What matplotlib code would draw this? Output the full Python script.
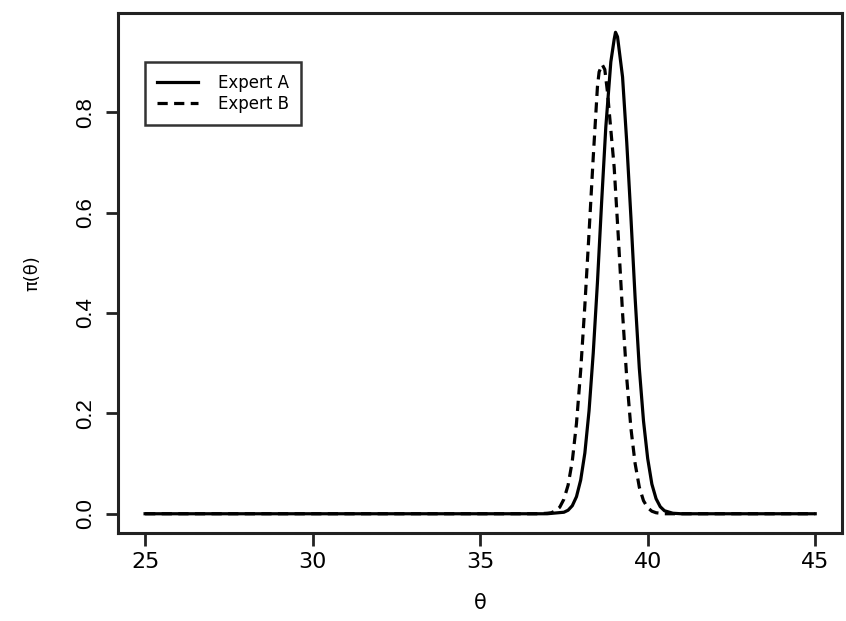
import matplotlib
matplotlib.use("Agg")
import matplotlib.pyplot as plt
from matplotlib.lines import Line2D

# ---- data ----
theta_A = [25.0, 37.0, 37.5, 37.625, 37.75, 37.875, 38.0, 38.125, 38.25, 38.375,
           38.5, 38.625, 38.75, 38.9, 39.0, 39.04, 39.1, 39.25, 39.375, 39.5,
           39.625, 39.75, 39.875, 40.0, 40.125, 40.25, 40.375, 40.5, 40.75,
           41.0, 45.0]
dens_A = [0.0, 0.0, 0.003, 0.007, 0.016, 0.034, 0.067, 0.121, 0.205, 0.32,
          0.46, 0.62, 0.77, 0.90, 0.945, 0.959, 0.95, 0.87, 0.74, 0.59,
          0.43, 0.29, 0.185, 0.11, 0.059, 0.03, 0.014, 0.006, 0.001,
          0.0, 0.0]

theta_B = [25.0, 36.75, 37.0, 37.125, 37.25, 37.375, 37.5, 37.625, 37.75, 37.875,
           38.0, 38.125, 38.25, 38.375, 38.5, 38.55, 38.64, 38.72, 38.8, 39.0,
           39.125, 39.25, 39.375, 39.5, 39.625, 39.75, 39.875, 40.0, 40.125,
           40.25, 40.5, 45.0]
dens_B = [0.0, 0.0, 0.001, 0.002, 0.006, 0.013, 0.029, 0.057, 0.105, 0.18,
          0.285, 0.415, 0.56, 0.71, 0.85, 0.88, 0.895, 0.885, 0.84, 0.69,
          0.55, 0.40, 0.27, 0.17, 0.10, 0.053, 0.026, 0.012, 0.005,
          0.002, 0.0, 0.0]

series_labels = ["Expert A", "Expert B"]
x_ticks = [25, 30, 35, 40, 45]
y_ticks = [0.0, 0.2, 0.4, 0.6, 0.8]
x_label = "θ"
y_label = "π(θ)"

# ---- figure ----
fig = plt.figure(figsize=(8.46, 6.21), dpi=100)
ax = fig.add_axes([0.1398, 0.1417, 0.8555, 0.8373])

lw = 2.3
ax.plot(theta_A, dens_A, color="black", lw=lw, solid_joinstyle="round")
ax.plot(theta_B, dens_B, color="black", lw=lw, dashes=(3.2, 2.0))

# R-style 4% axis expansion
xmin, xmax = 25.0, 45.0
ymin, ymax = 0.0, max(max(dens_A), max(dens_B))
dx = 0.04 * (xmax - xmin)
dy = 0.04 * (ymax - ymin)
ax.set_xlim(xmin - dx, xmax + dx)
ax.set_ylim(ymin - dy, ymax + dy)

ax.set_xticks(x_ticks)
ax.set_xticklabels([str(t) for t in x_ticks], family="DejaVu Sans", fontsize=16)
ax.set_yticks(y_ticks)
ax.set_yticklabels([f"{t:.1f}" for t in y_ticks], family="Liberation Sans",
                   fontsize=16, rotation=90, va="center")

ax.tick_params(axis="both", direction="out", length=9, width=2, color="#222222")
ax.tick_params(axis="x", pad=5)
ax.tick_params(axis="y", pad=7)

for sp in ax.spines.values():
    sp.set_linewidth(2.2)
    sp.set_color("#222222")

ax.set_xlabel(x_label, family="DejaVu Sans", fontsize=15)
ax.xaxis.set_label_coords(0.5, -0.115)
ax.set_ylabel(y_label, family="DejaVu Sans", fontsize=13)
ax.yaxis.set_label_coords(-0.106, 0.5)

handles = [Line2D([], [], color="black", lw=lw),
           Line2D([], [], color="black", lw=lw, dashes=(3.2, 2.0))]
leg = ax.legend(handles, series_labels, loc="upper left",
                bbox_to_anchor=(0.037, 0.906), frameon=True, fancybox=False,
                prop={"family": "DejaVu Sans", "size": 12},
                handlelength=2.5, handletextpad=1.2, borderpad=0.7,
                labelspacing=0.2, borderaxespad=0.0)
leg.get_frame().set_edgecolor("black")
leg.get_frame().set_linewidth(1.8)

fig.savefig("out.png", dpi=100)
